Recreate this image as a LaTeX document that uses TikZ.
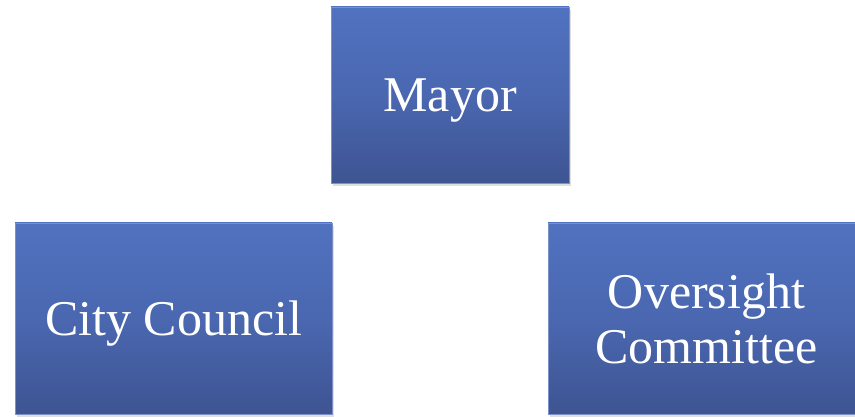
\documentclass[tikz,border=0pt]{standalone}
\usepackage{fontspec}
\setmainfont{Liberation Serif}
\usetikzlibrary{shadows}
\definecolor{boxtop}{RGB}{81,114,192}
\definecolor{boxmid}{RGB}{74,103,176}
\definecolor{boxbot}{RGB}{62,84,146}
\definecolor{boxedge}{RGB}{125,145,200}

\begin{document}
\begin{tikzpicture}[x=1pt,y=1pt,
    orgbox/.style={rectangle,draw=boxedge,line width=0.6pt,
        top color=boxtop,bottom color=boxbot,middle color=boxmid,
        text=white,align=center,inner sep=0pt,
        font=\fontsize{50}{55}\selectfont,
        drop shadow={opacity=0.25,shadow xshift=2pt,shadow yshift=-3pt}}]
            \useasboundingbox (0,0) rectangle (855,417);

            \node (mayor) at (450,322) [orgbox,text depth=0pt,minimum width=238pt,minimum height=176pt] {Mayor};
            \node (council) at (173.5,98.5) [orgbox,text depth=0pt,minimum width=317pt,minimum height=191pt] {City Council};
            \node (oversight) at (706.5,98.5) [orgbox,minimum width=317pt,minimum height=191pt] {Oversight\\Committee};

        \end{tikzpicture}
\end{document}
